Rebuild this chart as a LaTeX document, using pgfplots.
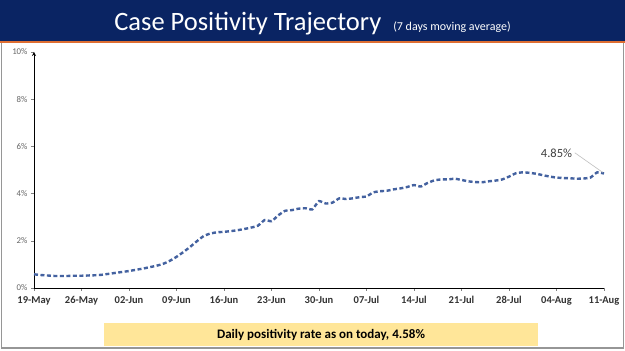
\documentclass[border=0pt]{standalone}
\usepackage{pgfplots}
\pgfplotsset{compat=1.18}
\usepackage{fontspec}
\setmainfont{Carlito}
\definecolor{navy}{RGB}{10,36,99}
\definecolor{orng}{RGB}{222,110,50}
\definecolor{linec}{RGB}{68,98,160}
\definecolor{yel}{RGB}{255,230,153}
\definecolor{framegray}{RGB}{150,150,150}
\begin{document}
\begin{tikzpicture}
\useasboundingbox (0pt,0pt) rectangle (625pt,351pt);
\fill[white] (0pt,0pt) rectangle (625pt,351pt);
\fill[navy] (0pt,309pt) rectangle (625pt,351pt);
\fill[orng] (0pt,307.5pt) rectangle (625pt,309.5pt);
\draw[framegray, line width=1.5pt] (1.5pt,307.5pt) -- (1.5pt,3pt) -- (623.5pt,3pt) -- (623.5pt,307.5pt);
\fill[yel] (104pt,5pt) rectangle (538pt,28pt);
\node[anchor=base] at (321pt,12.5pt) {\fontsize{13}{13}\selectfont\bfseries Daily positivity rate as on today, 4.58\%};
\node[anchor=base, text=white, inner sep=0pt] at (312.5pt,320pt) {\fontsize{26.5}{26.5}\selectfont Case Positivity Trajectory\ \ {\fontsize{12}{12}\selectfont (7 days moving average)}};
\begin{axis}[
  at={(34pt,63pt)}, anchor=south west,
  scale only axis, width=570pt, height=236pt,
  xmin=0, xmax=84, ymin=0, ymax=10,
  axis x line=bottom, axis y line=left,
  x axis line style={-, line width=0.8pt},
  y axis line style={-stealth, line width=0.8pt},
  tick align=outside,
  major tick length=3pt,
  xtick={0,7,14,21,28,35,42,49,56,63,70,77,84},
  xticklabels={19-May,26-May,02-Jun,09-Jun,16-Jun,23-Jun,30-Jun,07-Jul,14-Jul,21-Jul,28-Jul,04-Aug,11-Aug},
  xticklabel style={font=\fontsize{10.5}{10.5}\selectfont\bfseries, text=black!80, yshift=-2pt},
  ytick={0,2,4,6,8,10},
  yticklabel={\pgfmathprintnumber{\tick}\%},
  yticklabel style={font=\fontsize{8.8}{8.8}\selectfont, text=black!60},
  /pgf/number format/assume math mode=true,
  clip=false,
]
\addplot[linec, line width=2.4pt, dash pattern=on 4pt off 2.5pt, smooth, tension=0.3] table {
x y
0 0.58
1 0.55
2 0.53
3 0.51
4 0.51
5 0.51
6 0.52
7 0.52
8 0.53
9 0.54
10 0.56
11 0.60
12 0.64
13 0.68
14 0.72
15 0.77
16 0.82
17 0.88
18 0.94
19 1.02
20 1.15
21 1.32
22 1.52
23 1.74
24 1.98
25 2.20
26 2.31
27 2.36
28 2.38
29 2.41
30 2.45
31 2.50
32 2.56
33 2.64
34 2.88
35 2.83
36 3.08
37 3.27
38 3.30
39 3.36
40 3.38
41 3.33
42 3.68
43 3.58
44 3.62
45 3.80
46 3.77
47 3.80
48 3.85
49 3.88
50 4.05
51 4.10
52 4.12
53 4.18
54 4.22
55 4.28
56 4.36
57 4.30
58 4.45
59 4.56
60 4.60
61 4.60
62 4.63
63 4.58
64 4.52
65 4.49
66 4.48
67 4.52
68 4.55
69 4.60
70 4.72
71 4.86
72 4.90
73 4.88
74 4.84
75 4.78
76 4.72
77 4.68
78 4.66
79 4.65
80 4.63
81 4.64
82 4.68
83 4.90
84 4.85
};
\draw[black!25, line width=0.6pt] (axis cs:79.7,5.73) -- (axis cs:83.8,4.9);
\node[anchor=center, text=black!75, font=\fontsize{12.5}{12.5}\selectfont] at (axis cs:77,5.71) {4.85\%};
\end{axis}
\end{tikzpicture}
\end{document}
